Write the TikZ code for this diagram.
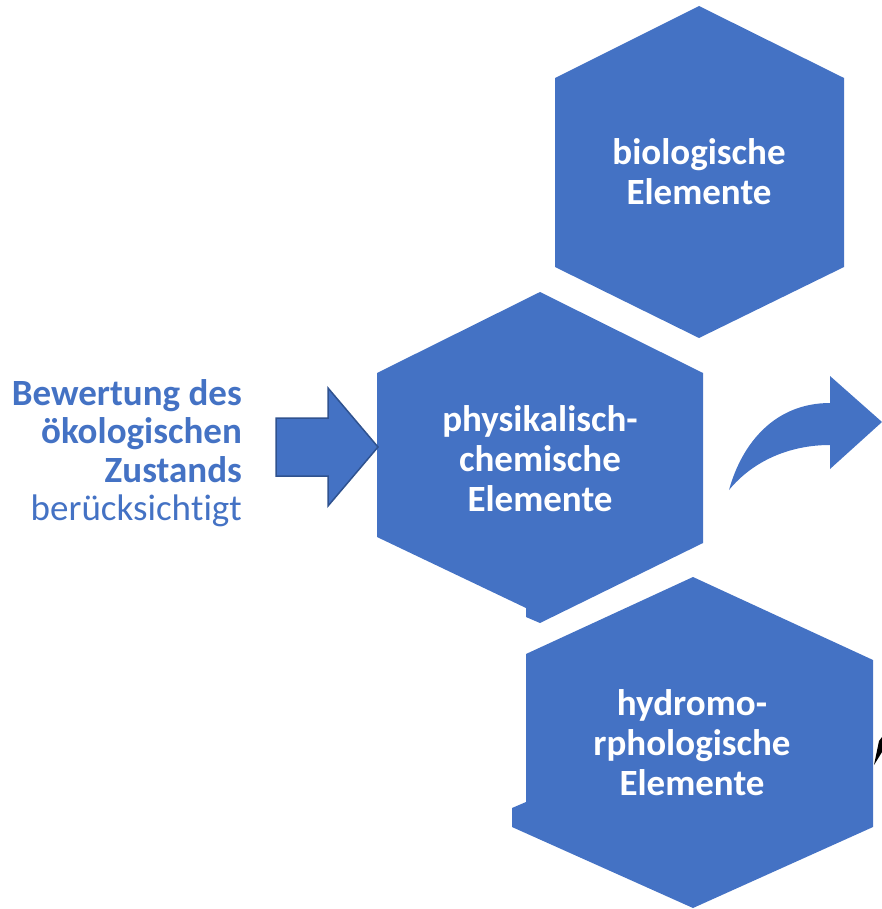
\documentclass[tikz,border=0pt]{standalone}
\usepackage{fontspec}
\setmainfont{Carlito}[Ligatures={NoCommon,NoRare,NoContextual,NoRequired}]
\usepackage{tikz}
\definecolor{hexblue}{HTML}{4472C4}
\definecolor{hexedge}{HTML}{2F528F}

\begin{document}
\begin{tikzpicture}[x=1pt,y=-1pt,
        hexlabel/.style={text=white,font=\bfseries\fontsize{37}{40}\selectfont,align=center,inner sep=0pt},
        sidelabel/.style={text=hexblue,font=\fontsize{37}{38.5}\selectfont,align=right,inner sep=0pt}]
            \useasboundingbox (0,0) rectangle (882,909);
            % hexagons
            \fill [hexblue] (699,6) -- (844,78) -- (844,267) -- (699,338)
                            -- (555,267) -- (555,78) -- cycle;  % biologisch
            \fill [hexblue] (540,292) -- (703,373) -- (703,543) -- (540,623)
                            -- (526,617) -- (526,608) -- (377,537) -- (377,373) -- cycle;  % physikalisch
            \fill [hexblue] (693,577) -- (873,660) -- (873,827) -- (693,908)
                            -- (512,827) -- (512,808) -- (526,802) -- (526,654) -- cycle;  % hydromorph
            \node [hexlabel] (bio) at (699,172) {biologische\\Elemente};
            \node [hexlabel] (phys) at (540,459) {physikalisch-\\chemische\\Elemente};
            \node [hexlabel] (hydro) at (692,743) {hydromo-\\rphologische\\Elemente};
            % left text
            \node [sidelabel, anchor=east] (eval) at (242,453)
                {\textbf{Bewertung des}\\\textbf{ökologischen}\\\textbf{Zustands}\\berücksich\kern0pt tig\kern0pt t};
            % arrows
            \filldraw [fill=hexblue, draw=hexedge, line width=1.5pt, line join=miter]
                (276,418) -- (328,418) -- (328,388) -- (378,447)
                -- (328,506) -- (328,476) -- (276,476) -- cycle;
            \fill [hexblue] (729,490) .. controls (742,443) and (775,403) .. (830,403)
                            -- (830,376) -- (882,422) -- (830,469) -- (830,445)
                            .. controls (788,445) and (752,462) .. (729,490) -- cycle;
            \fill [black] (874,765) -- (879,741) -- (882,737) -- (882,752) -- cycle;
        \end{tikzpicture}
\end{document}
